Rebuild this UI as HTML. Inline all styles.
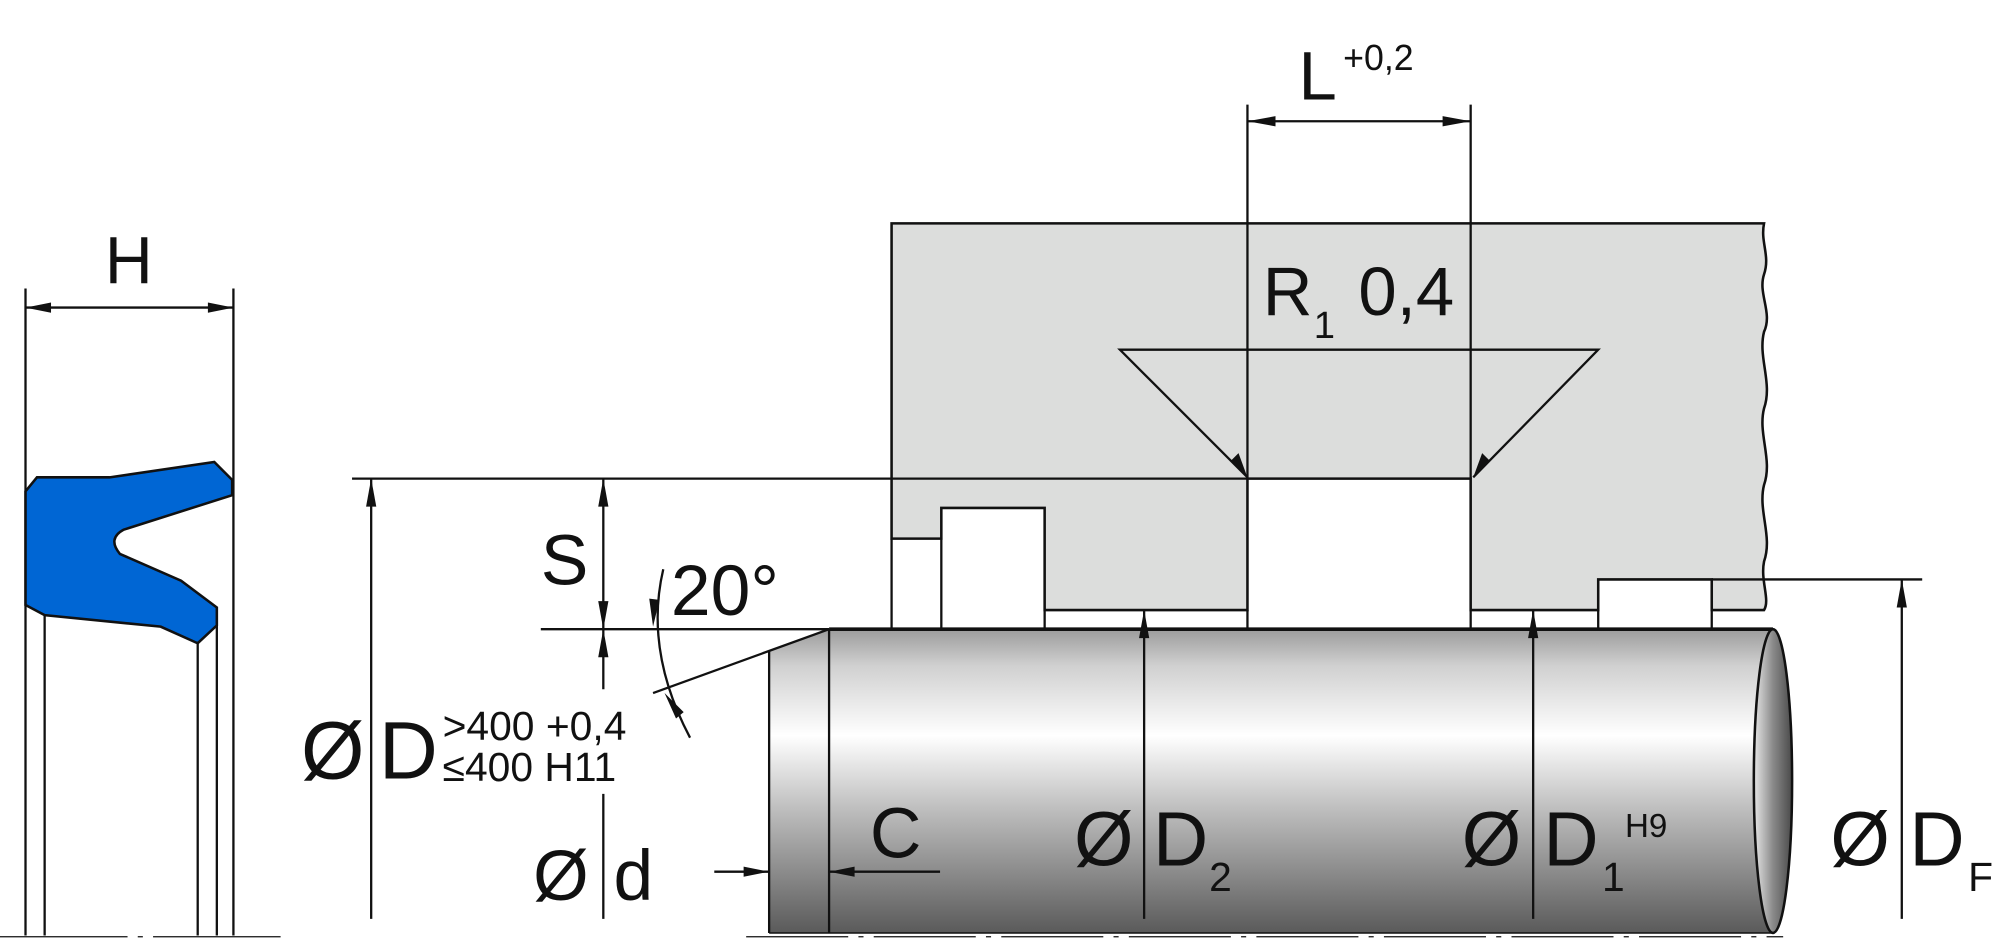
<!DOCTYPE html>
<html><head><meta charset="utf-8"><style>
html,body{margin:0;padding:0;background:#fff;}
svg{display:block;}
text{font-family:"Liberation Sans",Arial,sans-serif;fill:#111;}
</style></head><body>
<svg width="2000" height="947" viewBox="0 0 1568 742" preserveAspectRatio="none" xmlns="http://www.w3.org/2000/svg">
<defs>
<linearGradient id="rod" x1="0" y1="0" x2="0" y2="1">
<stop offset="0" stop-color="#9c9c9c"/>
<stop offset="0.12" stop-color="#d0d0d0"/>
<stop offset="0.35" stop-color="#ffffff"/>
<stop offset="0.6" stop-color="#bcbcbc"/>
<stop offset="1" stop-color="#5a5a5a"/>
</linearGradient>
<linearGradient id="endg" x1="0" y1="0" x2="1" y2="0">
<stop offset="0" stop-color="#e8e8e8"/>
<stop offset="0.5" stop-color="#8a8a8a"/>
<stop offset="1" stop-color="#4a4a4a"/>
</linearGradient>
</defs>
<g stroke="#111" stroke-width="1.8">
<!-- housing -->
<path d="M699,175 L1383,175 C1380,190 1388,200 1383,215 C1378,230 1390,245 1383,260 C1378,280 1390,300 1383,320 C1378,340 1390,360 1383,380 C1378,400 1390,420 1383,440 C1380,455 1388,470 1383,478 L1342,478 L1342,454 L1253,454 L1253,478 L1153,478 L1153,375 L978,375 L978,478 L819,478 L819,398 L738,398 L738,422 L699,422 Z" fill="#dcdddc" stroke-width="2"/>
<line x1="699" y1="422" x2="699" y2="493"/>
<line x1="738" y1="422" x2="738" y2="493"/>
<line x1="819" y1="478" x2="819" y2="493"/>
<line x1="978" y1="478" x2="978" y2="493"/>
<line x1="1153" y1="478" x2="1153" y2="493"/>
<line x1="1253" y1="478" x2="1253" y2="493"/>
<line x1="1342" y1="478" x2="1342" y2="493"/>
</g>
<!-- rod -->
<path d="M603,510 L650,493 L1390,493 L1390,731 L603,731 Z" fill="url(#rod)"/>
<g stroke="#111" stroke-width="1.8">
<line x1="603" y1="510" x2="603" y2="731"/>
<line x1="650" y1="493" x2="650" y2="731"/>
<line x1="650" y1="493" x2="1390" y2="493" stroke-width="2.8"/>
<line x1="603" y1="731" x2="1390" y2="731" stroke-width="1.2"/>
<ellipse cx="1390" cy="612" rx="15" ry="119" fill="url(#endg)" stroke-width="2"/>
<line x1="585" y1="734" x2="1398" y2="734" stroke-width="1" stroke-dasharray="80,8,4,8"/>

<!-- seal -->
<line x1="20" y1="226" x2="20" y2="733"/>
<line x1="183" y1="226" x2="183" y2="733"/>
<line x1="35" y1="482" x2="35" y2="733"/>
<line x1="155" y1="504" x2="155" y2="733"/>
<line x1="170" y1="490" x2="170" y2="733"/>
<line x1="0" y1="734" x2="228" y2="734" stroke-width="1" stroke-dasharray="100,8,4,8"/>
<path d="M20,385 L29,374 L86,374 L168,362 L182,376 L182,388 L97,415 Q84,422 94,434 L142,455 L170,476 L170,490 L155,504 L126,491 L35,482 L20,474 Z" fill="#0066d4" stroke-width="2"/>
<line x1="20" y1="241" x2="183" y2="241"/>

<!-- L dimension -->
<line x1="978" y1="82" x2="978" y2="375"/>
<line x1="1153" y1="82" x2="1153" y2="375"/>
<line x1="978" y1="95" x2="1153" y2="95"/>
<path d="M978,374 L878,274 L1253,274 L1155,374" fill="none"/>
<line x1="276" y1="375" x2="978" y2="375"/>
<line x1="424" y1="493" x2="650" y2="493"/>
<line x1="291" y1="375" x2="291" y2="720"/>
<line x1="473" y1="375" x2="473" y2="540"/>
<line x1="473" y1="622" x2="473" y2="720"/>
<line x1="650" y1="493" x2="512" y2="543"/>
<path d="M520,446 Q505,510 541,578" fill="none"/>
<line x1="560" y1="683" x2="603" y2="683"/>
<line x1="650" y1="683" x2="737" y2="683"/>
<line x1="897" y1="478" x2="897" y2="720"/>
<line x1="1202" y1="478" x2="1202" y2="720"/>
<line x1="1342" y1="454" x2="1507" y2="454"/>
<line x1="1491" y1="454" x2="1491" y2="720"/>
</g>
<g fill="#111">
<path d="M20,241 l20,-4 l0,8 Z M183,241 l-20,-4 l0,8 Z"/>
<path d="M978,95 l22,-4 l0,8 Z M1153,95 l-22,-4 l0,8 Z"/>
<path d="M978,374 l-7,-19 l-6,6 Z M1155,374 l7,-19 l6,6 Z"/>
<path d="M291,375 l-4,22 l8,0 Z"/>
<path d="M473,375 l-4,22 l8,0 Z M473,493 l-4,-22 l8,0 Z M473,493 l-4,22 l8,0 Z"/>
<path d="M512,491 l-3,-22 l8,1 Z M521,543 l9,20 l6,-5 Z"/>
<path d="M603,683 l-20,-4 l0,8 Z M650,683 l20,-4 l0,8 Z"/>
<path d="M897,478 l-4,22 l8,0 Z M1202,478 l-4,22 l8,0 Z M1491,454 l-4,22 l8,0 Z"/>
</g>

<text x="101" y="222" font-size="52" text-anchor="middle">H</text>
<text x="1018" y="78" font-size="54">L</text>
<text x="1053" y="55" font-size="28">+0,2</text>
<text x="990" y="247" font-size="54">R</text>
<text x="1030" y="265" font-size="30">1</text>
<text x="1065" y="247" font-size="54">0,4</text>
<text x="236" y="610" font-size="64">Ø</text>
<text x="297" y="610" font-size="64">D</text>
<text x="347" y="580" font-size="32">&gt;400 +0,4</text>
<text x="347" y="612" font-size="32">≤400 H11</text>
<text x="424" y="458" font-size="56">S</text>
<text x="526" y="482" font-size="56">20°</text>
<text x="418" y="705" font-size="56">Ø</text>
<text x="481" y="705" font-size="56">d</text>
<text x="682" y="672" font-size="56">C</text>
<text x="842" y="678" font-size="60">Ø</text>
<text x="904" y="678" font-size="60">D</text>
<text x="948" y="698" font-size="32">2</text>
<text x="1146" y="678" font-size="60">Ø</text>
<text x="1210" y="678" font-size="60">D</text>
<text x="1256" y="698" font-size="32">1</text>
<text x="1274" y="656" font-size="26">H9</text>
<text x="1435" y="678" font-size="60">Ø</text>
<text x="1497" y="678" font-size="60">D</text>
<text x="1543" y="698" font-size="32">F</text>
</svg>
</body></html>
